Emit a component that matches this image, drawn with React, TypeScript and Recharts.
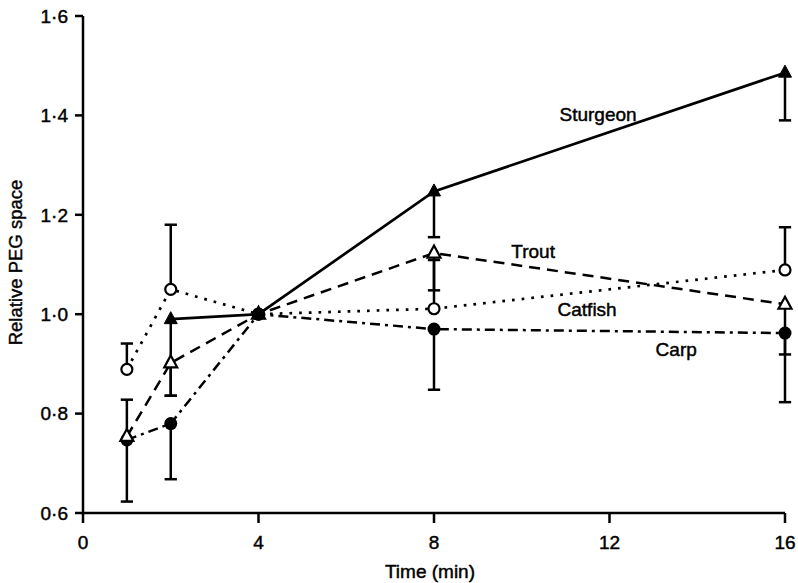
import { LineChart, Line, XAxis, YAxis, ErrorBar, ReferenceLine, ReferenceDot, Label } from "recharts";

const font = "'Liberation Sans', Arial, Helvetica, sans-serif";

// sampling times (min)
const times = [1, 2, 4, 8, 16];
const sturgeonTimes = [2, 4, 8, 16];

// relative PEG space
const sturgeonValues = [0.99, 1.0, 1.247, 1.486];
const troutValues = [0.754, 0.902, 1.0, 1.123, 1.02];
const catfishValues = [0.889, 1.05, 1.0, 1.011, 1.089];
const carpValues = [0.747, 0.78, 1.0, 0.97, 0.962];

// error bars as [below, above]
const sturgeonErr = [[0.154, 0], [0, 0], [0.092, 0], [0.096, 0]];
const troutErr = [[0, 0.074], [0.066, 0], [0, 0], [0.075, 0], [0.101, 0]];
const catfishErr = [[0, 0.052], [0, 0.13], [0, 0], [0, 0.098], [0, 0.086]];
const carpErr = [[0.124, 0], [0.112, 0], [0, 0], [0.122, 0], [0.139, 0]];

const xTicks = [0, 4, 8, 12, 16];
const yTicks = [0.6, 0.8, 1.0, 1.2, 1.4, 1.6];

const seriesNames = ["Sturgeon", "Trout", "Catfish", "Carp"];
// where the curve names sit, in data units
const nameSpots = [
  { x: 11.74, y: 1.402 },
  { x: 10.26, y: 1.127 },
  { x: 11.49, y: 1.01 },
  { x: 13.52, y: 0.93 },
];

const CAP = 0.14; // half cap width in minutes

const build = (ts: number[], vals: number[], errs: number[][]) =>
  ts.map((t, i) => ({ t, v: vals[i], err: errs[i] }));

const sturgeon = build(sturgeonTimes, sturgeonValues, sturgeonErr);
const trout = build(times, troutValues, troutErr);
const catfish = build(times, catfishValues, catfishErr);
const carp = build(times, carpValues, carpErr);

const caps: { t: number; y: number }[] = [];
[sturgeon, trout, catfish, carp].forEach((s) =>
  s.forEach((d) => {
    if (d.err[0] > 0) caps.push({ t: d.t, y: d.v - d.err[0] });
    if (d.err[1] > 0) caps.push({ t: d.t, y: d.v + d.err[1] });
  })
);

const tri = (cx: number, cy: number) =>
  `M${cx},${cy - 7.5} L${cx + 6.5},${cy + 4.5} L${cx - 6.5},${cy + 4.5} Z`;

const marker = (kind: string) => (p: any) => {
  const { cx, cy, index } = p;
  const key = `${kind}-${index}`;
  if (kind === "filledTri") return <path key={key} d={tri(cx, cy)} fill="#000" stroke="#000" strokeWidth={1} />;
  if (kind === "openTri")
    return <path key={key} d={tri(cx, cy)} fill="#fff" stroke="#000" strokeWidth={2.2} strokeLinejoin="miter" />;
  if (kind === "openCircle") return <circle key={key} cx={cx} cy={cy} r={5.5} fill="#fff" stroke="#000" strokeWidth={2.2} />;
  return <circle key={key} cx={cx} cy={cy} r={6.5} fill="#000" />;
};

const fmtY = (v: number) => v.toFixed(1).replace(".", "·");

const txt = { fill: "#000", stroke: "#000", strokeWidth: 0.45, fontFamily: font };

export default function App() {
  return (
    <div style={{ position: "absolute", left: 0, top: 0, background: "#fff" }}>
      <LineChart width={798} height={583} margin={{ top: 16, right: 13, left: 0, bottom: 0 }}>
        <XAxis
          dataKey="t"
          type="number"
          domain={[0, 16]}
          ticks={xTicks}
          allowDuplicatedCategory={false}
          height={70}
          tickSize={10}
          tickMargin={13}
          axisLine={{ stroke: "#000", strokeWidth: 2.5 }}
          tickLine={{ stroke: "#000", strokeWidth: 2.5 }}
          tick={{ ...txt, fontSize: 19 }}
        >
          <Label
            value="Time (min)"
            position="insideBottom"
            offset={5}
            dx={-4}
            style={{ ...txt, fontSize: 19 }}
          />
        </XAxis>
        <YAxis
          type="number"
          domain={[0.6, 1.6]}
          ticks={yTicks}
          width={83}
          tickSize={8}
          tickMargin={7}
          tickFormatter={fmtY}
          axisLine={{ stroke: "#000", strokeWidth: 2.5 }}
          tickLine={{ stroke: "#000", strokeWidth: 2.5 }}
          tick={{ ...txt, fontSize: 19 }}
        >
          <Label
            content={(p: any) => {
              const vb = p.viewBox;
              const x = vb.x + 15;
              const y = vb.y + vb.height / 2 - 2;
              return (
                <text
                  x={x}
                  y={y}
                  transform={`rotate(-90 ${x} ${y})`}
                  textAnchor="middle"
                  dominantBaseline="central"
                  fill="#000"
                  stroke="#000"
                  strokeWidth={0.4}
                  fontSize={18.5}
                  fontFamily={font}
                >
                  Relative PEG space
                </text>
              );
            }}
          />
        </YAxis>

        {caps.map((c, i) => (
          <ReferenceLine
            key={`cap-${i}`}
            segment={[
              { x: c.t - CAP, y: c.y },
              { x: c.t + CAP, y: c.y },
            ]}
            stroke="#000"
            strokeWidth={2.5}
            ifOverflow="visible"
          />
        ))}

        <Line
          data={carp}
          dataKey="v"
          stroke="#000"
          strokeWidth={2.5}
          strokeDasharray="10 5 3 5"
          dot={marker("filledCircle")}
          isAnimationActive={false}
        >
          <ErrorBar dataKey="err" direction="y" width={0} stroke="#000" strokeWidth={2.5} />
        </Line>
        <Line
          data={catfish}
          dataKey="v"
          stroke="#000"
          strokeWidth={2.7}
          strokeDasharray="2.7 7"
          dot={marker("openCircle")}
          isAnimationActive={false}
        >
          <ErrorBar dataKey="err" direction="y" width={0} stroke="#000" strokeWidth={2.5} />
        </Line>
        <Line
          data={trout}
          dataKey="v"
          stroke="#000"
          strokeWidth={2.5}
          strokeDasharray="11 7"
          dot={marker("openTri")}
          isAnimationActive={false}
        >
          <ErrorBar dataKey="err" direction="y" width={0} stroke="#000" strokeWidth={2.5} />
        </Line>
        <Line
          data={sturgeon}
          dataKey="v"
          stroke="#000"
          strokeWidth={2.7}
          dot={marker("filledTri")}
          isAnimationActive={false}
        >
          <ErrorBar dataKey="err" direction="y" width={0} stroke="#000" strokeWidth={2.5} />
        </Line>

        {seriesNames.map((name, i) => (
          <ReferenceDot
            key={name}
            x={nameSpots[i].x}
            y={nameSpots[i].y}
            r={0}
            fill="none"
            stroke="none"
            ifOverflow="visible"
            label={{ value: name, position: "center", ...txt, fontSize: 19 }}
          />
        ))}
      </LineChart>
    </div>
  );
}
